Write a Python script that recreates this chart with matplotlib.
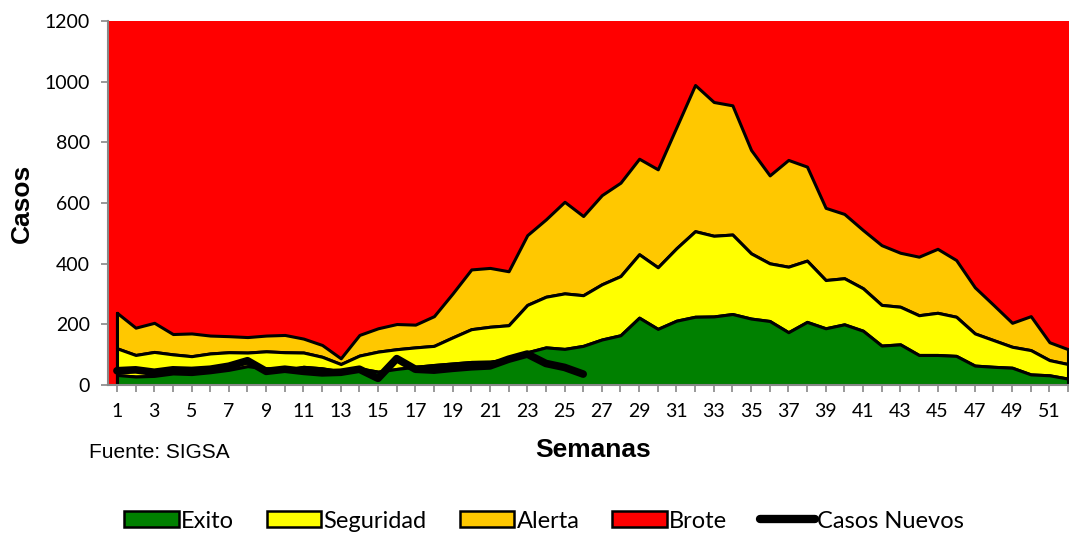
import matplotlib
matplotlib.use("Agg")
import matplotlib.pyplot as plt
from matplotlib.patches import Patch
from matplotlib.lines import Line2D
import numpy as np

semanas = list(range(1, 53))

exito = [33, 28, 30, 38, 36, 42, 50, 62, 55, 50, 60, 55, 45, 55,
         44, 53, 60, 66, 71, 76, 77, 85, 108, 124, 119, 129, 150,
         164, 222, 185, 212, 225, 226, 234, 219, 211, 174, 208, 187, 200,
         179, 130, 134, 99, 99, 96, 64, 60, 57, 35, 32, 21]

seguridad = [121, 99, 109, 101, 95, 104, 108, 107, 111, 108, 107, 93, 69, 97,
             110, 118, 124, 129, 157, 184, 192, 197, 264, 291, 302, 296, 332,
             359, 431, 388, 451, 507, 492, 496, 434, 401, 390, 410, 346, 352,
             319, 264, 258, 230, 238, 225, 170, 148, 126, 115, 82, 69]

alerta = [238, 189, 205, 168, 170, 163, 161, 158, 163, 165, 153, 132, 88, 165,
          187, 201, 199, 227, 302, 381, 386, 375, 494, 546, 604, 557, 626,
          667, 746, 711, 850, 989, 933, 922, 775, 691, 742, 720, 584, 564,
          511, 461, 436, 423, 449, 412, 322, 264, 205, 227, 141, 118]

brote = 1200

casos_semanas = list(range(1, 27))
casos_nuevos = [47, 50, 42, 50, 48, 52, 62, 80, 45, 52, 45, 40, 42, 52,
                22, 87, 52, 49, 55, 60, 63, 85, 102, 71, 58, 36]

calibri_like = ["Lato", "DejaVu Sans"]
arial_like = ["Liberation Sans", "DejaVu Sans"]

W, H = 1069, 534
fig = plt.figure(figsize=(W / 100, H / 100), dpi=100)
ax = fig.add_axes([108 / W, (H - 385) / H, (W - 108) / W, 364 / H])

c_green = "#008000"
c_yellow = "#FFFF00"
c_orange = "#FFC800"
c_red = "#FF0000"

ax.set_facecolor(c_red)
x = np.array(semanas)
zeros = np.zeros(len(x))
ax.fill_between(x, zeros, exito, facecolor=c_green, edgecolor="black", linewidth=2.2, zorder=3)
ax.fill_between(x, exito, seguridad, facecolor=c_yellow, edgecolor="black", linewidth=2.2, zorder=2)
ax.fill_between(x, seguridad, alerta, facecolor=c_orange, edgecolor="black", linewidth=2.2, zorder=1)
ax.plot([1, 1], [0, alerta[0]], color="black", lw=2.2, zorder=4)
ax.plot([52, 52], [0, alerta[-1]], color="black", lw=2.2, zorder=4)

ax.plot(casos_semanas, casos_nuevos, color="black", lw=5.5, solid_capstyle="round",
        solid_joinstyle="round", zorder=5)

ax.set_xlim(0.52, 52.05)
ax.set_ylim(0, brote)
ax.set_yticks(range(0, 1201, 200))
ax.set_xticks(semanas)
ax.set_xticklabels([str(s) if s % 2 == 1 else "" for s in semanas],
                   fontfamily=calibri_like, fontsize=14)
for lbl in ax.get_yticklabels():
    lbl.set_fontfamily(calibri_like)
    lbl.set_fontsize(14)

for s in ["top", "right"]:
    ax.spines[s].set_visible(False)
for s in ["left", "bottom"]:
    ax.spines[s].set_color("#888888")
    ax.spines[s].set_linewidth(1.5)
    ax.spines[s].set_zorder(6)
ax.tick_params(axis="both", direction="out", color="#888888", width=1.2, length=5)
ax.tick_params(axis="x", pad=8)
ax.tick_params(axis="y", pad=8)

fig.text(22 / W, 1 - 203 / H, "Casos", rotation=90, ha="center", va="center",
         fontsize=19, fontweight="bold", family=arial_like)
fig.text(593 / W, 1 - 450 / H, "Semanas", ha="center", va="center",
         fontsize=19, fontweight="bold", family=arial_like)
fig.text(89 / W, 1 - 453 / H, "Fuente: SIGSA", ha="left", va="center",
         fontsize=15, family=arial_like)

handles = [
    Patch(facecolor=c_green, edgecolor="black", linewidth=1.8, label="Exito"),
    Patch(facecolor=c_yellow, edgecolor="black", linewidth=1.8, label="Seguridad"),
    Patch(facecolor=c_orange, edgecolor="black", linewidth=1.8, label="Alerta"),
    Patch(facecolor=c_red, edgecolor="black", linewidth=1.8, label="Brote"),
    Line2D([0], [0], color="black", lw=6, solid_capstyle="round", label="Casos Nuevos"),
]
leg = fig.legend(handles=handles, loc="center", bbox_to_anchor=(544 / W, 1 - 521 / H),
                 ncol=5, frameon=False, prop={"family": calibri_like, "size": 17},
                 handlelength=2.3, handleheight=0.68, handletextpad=0.1, columnspacing=1.4,
                 borderpad=0.1)

fig.savefig("out.png", dpi=100)
